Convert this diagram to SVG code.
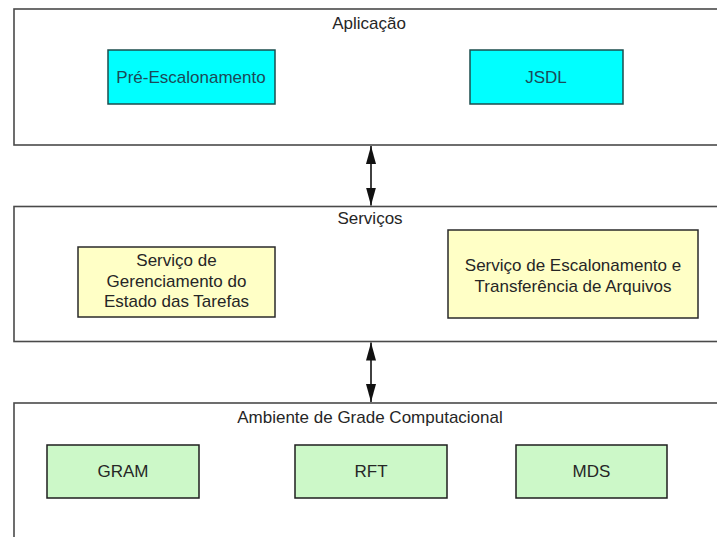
<svg xmlns="http://www.w3.org/2000/svg" width="717" height="537" viewBox="0 0 717 537">
  <style>
    .layer { fill: #ffffff; stroke: #4a4a4a; stroke-width: 1.6; }
    .cyan { fill: #00ffff; stroke: #1d4d4d; stroke-width: 1.5; }
    .yellow { fill: #ffffc6; stroke: #2a2a2a; stroke-width: 1.5; }
    .green { fill: #ccf8c8; stroke: #1e1e1e; stroke-width: 1.5; }
    text { font-family: "Liberation Sans", Arial, sans-serif; font-size: 17px; text-anchor: middle; fill: #262626; }
    .cyantext { fill: #1c4a58; }
    .conn { stroke: #111111; stroke-width: 1.6; fill: none; }
  </style>
  <defs>
    <marker id="head" viewBox="0 0 18 10" refX="18" refY="5" markerWidth="18" markerHeight="10" markerUnits="userSpaceOnUse" orient="auto-start-reverse">
      <path d="M0,0 L18,5 L0,10 Z" fill="#111111"/>
    </marker>
  </defs>
  <rect width="717" height="537" fill="#ffffff"/>

  <!-- Application layer -->
  <g id="aplicacao">
    <rect class="layer" x="14" y="9" width="720" height="136"/>
    <text x="369" y="29">Aplicação</text>
  </g>
  <g id="pre-escalonamento">
    <rect class="cyan" x="108" y="50" width="167" height="54"/>
    <text class="cyantext" x="191" y="83">Pré-Escalonamento</text>
  </g>
  <g id="jsdl">
    <rect class="cyan" x="470" y="50" width="153" height="54"/>
    <text class="cyantext" x="546" y="83">JSDL</text>
  </g>

  <!-- Services layer -->
  <g id="servicos">
    <rect class="layer" x="14" y="206.5" width="720" height="135"/>
    <text x="370" y="224">Serviços</text>
  </g>
  <g id="gerenciamento">
    <rect class="yellow" x="78" y="247" width="197" height="70"/>
    <text x="176.5" y="266">Serviço de</text>
    <text x="176.5" y="287">Gerenciamento do</text>
    <text x="176.5" y="307">Estado das Tarefas</text>
  </g>
  <g id="escalonamento">
    <rect class="yellow" x="448" y="230" width="250" height="88"/>
    <text x="573" y="271">Serviço de Escalonamento e</text>
    <text x="573" y="292">Transferência de Arquivos</text>
  </g>

  <!-- Grid environment layer -->
  <g id="ambiente">
    <rect class="layer" x="14" y="403" width="720" height="160"/>
    <text x="370" y="423">Ambiente de Grade Computacional</text>
  </g>
  <g id="gram">
    <rect class="green" x="47" y="445" width="152" height="53"/>
    <text x="123" y="477">GRAM</text>
  </g>
  <g id="rft">
    <rect class="green" x="295" y="445" width="152" height="53"/>
    <text x="371" y="477">RFT</text>
  </g>
  <g id="mds">
    <rect class="green" x="516" y="445" width="151" height="53"/>
    <text x="591.5" y="477">MDS</text>
  </g>

  <!-- Connectors between layers -->
  <g id="connectors">
    <line class="conn" x1="371" y1="146" x2="371" y2="205.5" marker-start="url(#head)" marker-end="url(#head)"/>
    <line class="conn" x1="371" y1="342.5" x2="371" y2="402" marker-start="url(#head)" marker-end="url(#head)"/>
  </g>
</svg>
